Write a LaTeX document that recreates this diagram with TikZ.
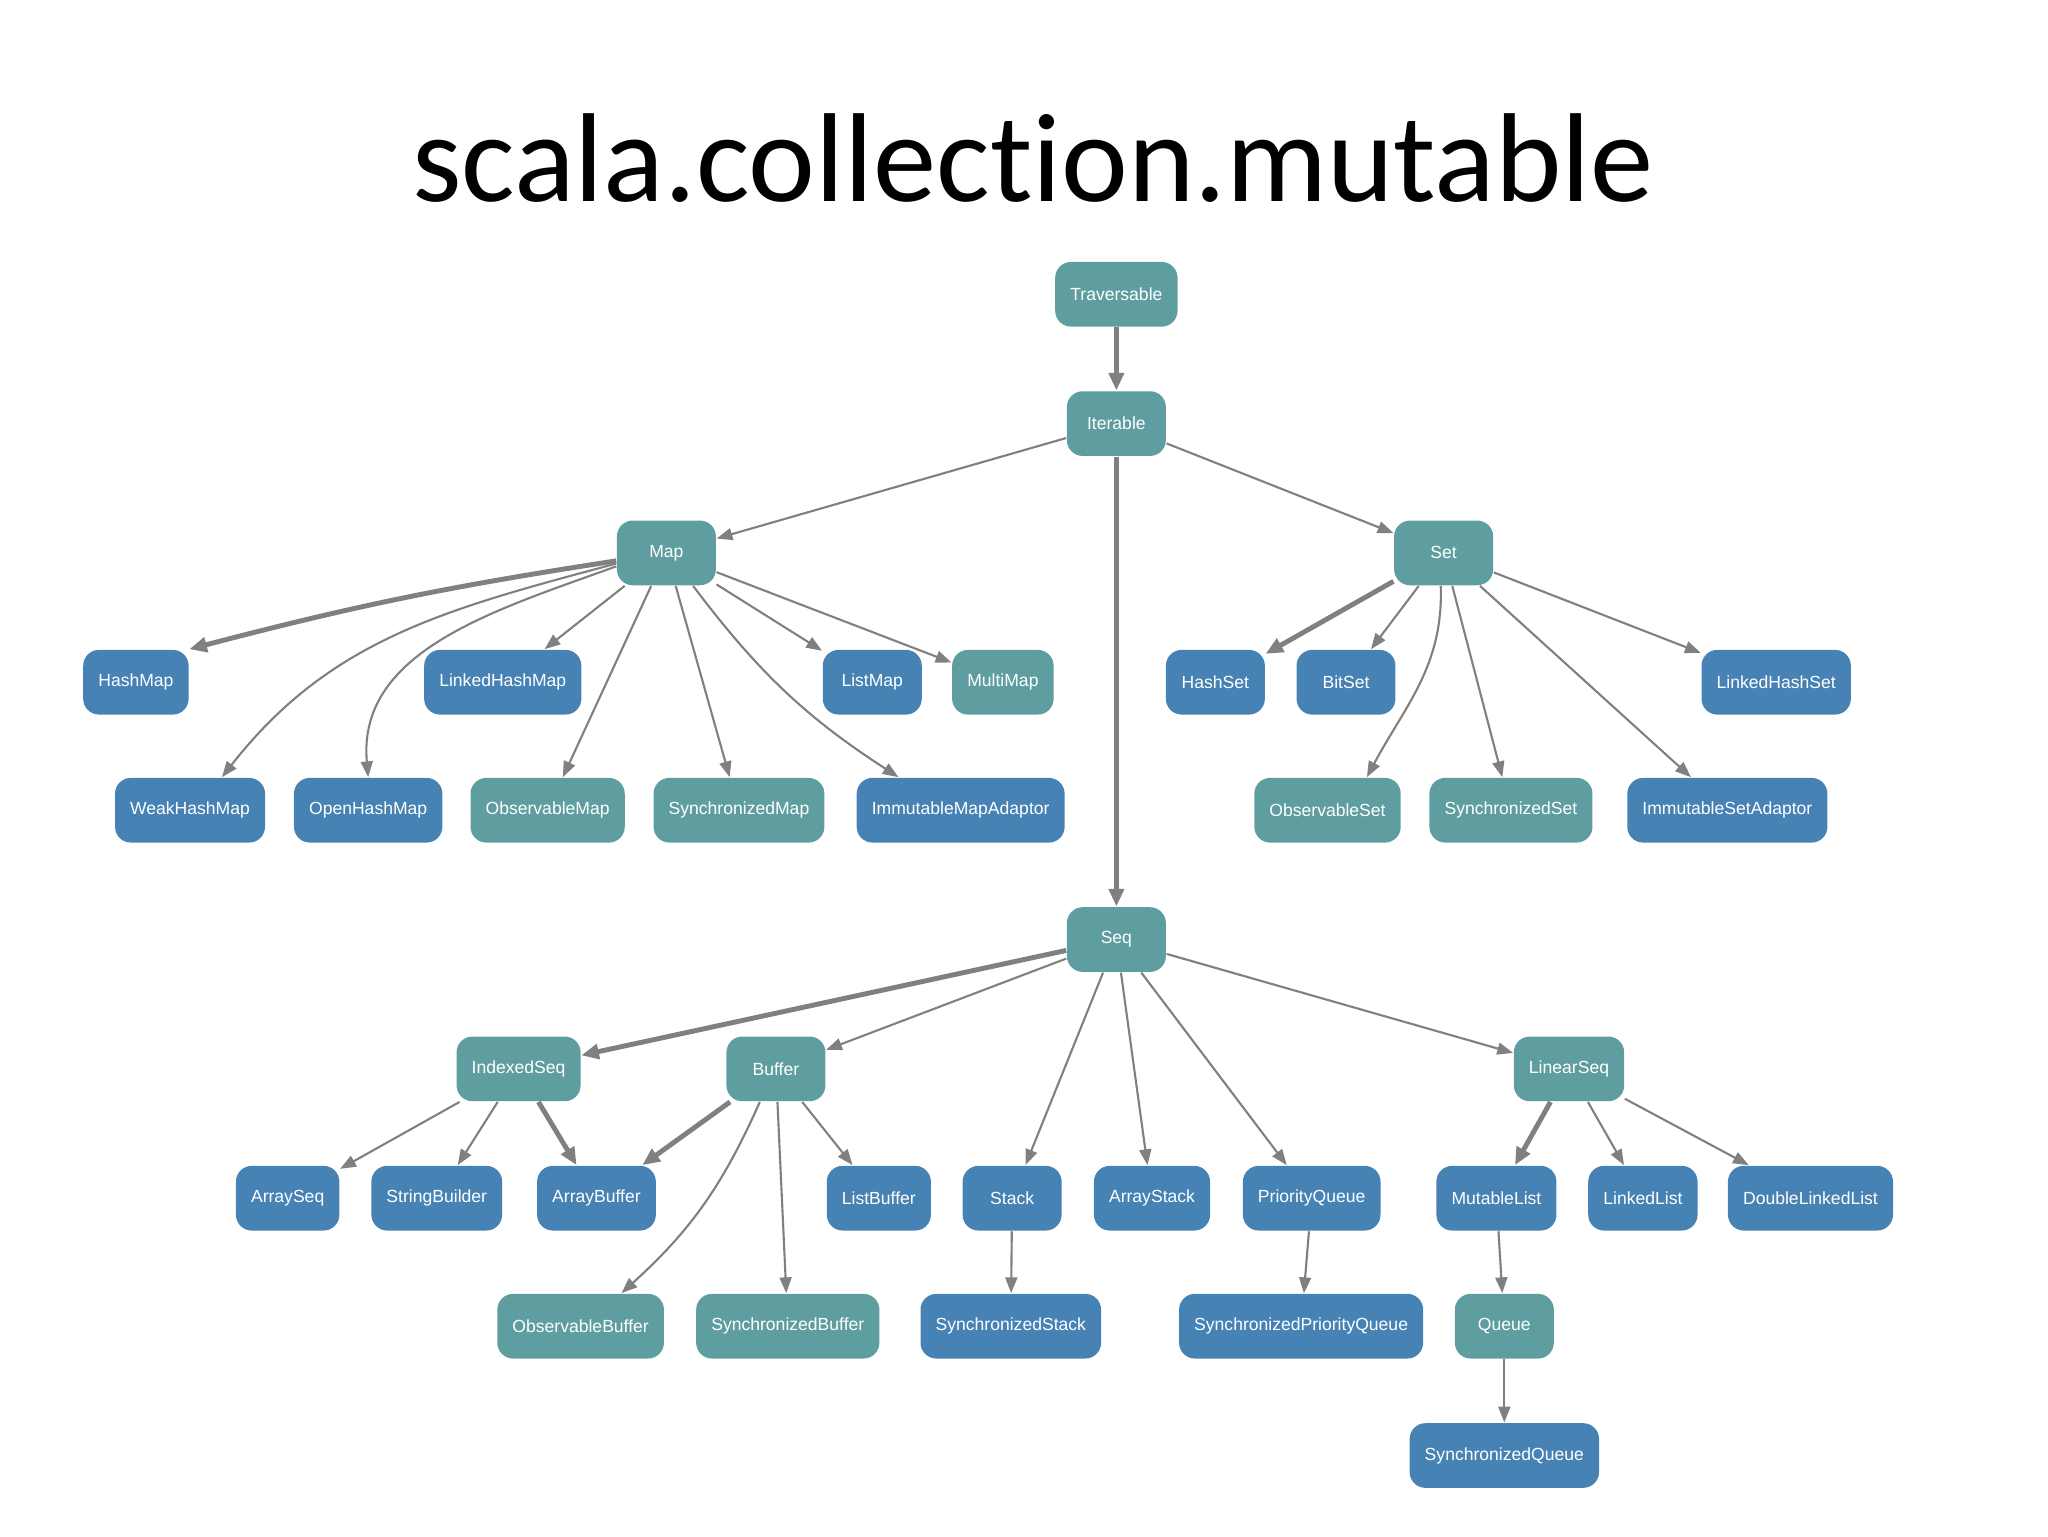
\documentclass[tikz,border=0pt]{standalone}
\usepackage{fontspec}
\setmainfont{Liberation Sans}
\newfontfamily\titlefont[Ligatures = NoCommon]{Carlito}
\usetikzlibrary{arrows.meta}
\definecolor{traitteal}{HTML}{5F9EA0}
\definecolor{classblue}{HTML}{4682B4}
\definecolor{linegray}{HTML}{808080}

\begin{document}
\begin{tikzpicture}[x = 0.0132cm, y = -0.0132cm,
    box/.style = {rounded corners = 4.5pt, minimum width = 0.99cm, minimum height = 0.647cm, inner xsep = 4.3pt, text = white, font = \fontsize{5}{6}\selectfont},
    trait/.style = {box, fill = traitteal},
    cls/.style = {box, fill = classblue},
    extends/.style = {draw = linegray, line width = 0.6pt, -{Triangle[length = 4.5pt, width = 3.4pt]}},
    primary/.style = {draw = linegray, line width = 1.4pt, -{Triangle[length = 5pt, width = 4.2pt]}}]
    \useasboundingbox (0, 0) rectangle (1552, 1164);

% title
    \node[font = \titlefont\fontsize{36}{40}\selectfont] (title) at (783, 120) {scala.collection.mutable};

% top of the tree
    \node[trait] (traversable) at (846, 223) {Traversable};
    \node[trait] (iterable) at (846, 321) {Iterable};
    \node[trait] (map) at (505, 419) {Map};
    \node[trait] (set) at (1094, 419) {Set};
    \node[trait] (seq) at (846, 712) {Seq};

% map branch
    % first row
    \node[cls] (hashmap) at (103, 517) {HashMap};
    \node[cls] (linkedhashmap) at (381, 517) {LinkedHashMap};
    \node[cls] (listmap) at (661, 517) {ListMap};
    \node[trait] (multimap) at (760, 517) {MultiMap};
    % second row
    \node[cls] (weakhashmap) at (144, 614) {WeakHashMap};
    \node[cls] (openhashmap) at (279, 614) {OpenHashMap};
    \node[trait] (observablemap) at (415, 614) {ObservableMap};
    \node[trait] (synchronizedmap) at (560, 614) {SynchronizedMap};
    \node[cls] (immutablemapadaptor) at (728, 614) {ImmutableMapAdaptor};

% set branch
    \node[cls] (hashset) at (921, 517) {HashSet};
    \node[cls] (bitset) at (1020, 517) {BitSet};
    \node[cls] (linkedhashset) at (1346, 517) {LinkedHashSet};
    \node[trait] (observableset) at (1006, 614) {ObservableSet};
    \node[trait] (synchronizedset) at (1145, 614) {SynchronizedSet};
    \node[cls] (immutablesetadaptor) at (1309, 614) {ImmutableSetAdaptor};

% seq branch
    % traits below seq
    \node[trait] (indexedseq) at (393, 810) {IndexedSeq};
    \node[trait] (buffer) at (588, 810) {Buffer};
    \node[trait] (linearseq) at (1189, 810) {LinearSeq};
    % classes row
    \node[cls] (arrayseq) at (218, 908) {ArraySeq};
    \node[cls] (stringbuilder) at (331, 908) {StringBuilder};
    \node[cls] (arraybuffer) at (452, 908) {ArrayBuffer};
    \node[cls] (listbuffer) at (666, 908) {ListBuffer};
    \node[cls] (stack) at (767, 908) {Stack};
    \node[cls] (arraystack) at (873, 908) {ArrayStack};
    \node[cls] (priorityqueue) at (994, 908) {PriorityQueue};
    \node[cls] (mutablelist) at (1134, 908) {MutableList};
    \node[cls] (linkedlist) at (1245, 908) {LinkedList};
    \node[cls] (doublelinkedlist) at (1372, 908) {DoubleLinkedList};
    % lowest rows
    \node[trait] (observablebuffer) at (440, 1005) {ObservableBuffer};
    \node[trait] (synchronizedbuffer) at (597, 1005) {SynchronizedBuffer};
    \node[cls] (synchronizedstack) at (766, 1005) {SynchronizedStack};
    \node[cls] (synchronizedpriorityqueue) at (986, 1005) {SynchronizedPriorityQueue};
    \node[trait] (queue) at (1140, 1005) {Queue};
    \node[cls] (synchronizedqueue) at (1140, 1103) {SynchronizedQueue};

% draw arrows of the top
    \draw[primary] (traversable) -- (iterable);
    \draw[extends] (iterable) -- (map);
    \draw[extends] (iterable) -- (set);
    \draw[primary] (iterable) -- (seq);

% draw arrows of map
    \draw[primary] (map.189) to[bend right = 3] (hashmap.north east);
    \draw[extends] (map.192) to[out = 195, in = 52] (weakhashmap.46);
    \draw[extends] (map.195) to[out = 200, in = 95] (openhashmap.north);
    \draw[extends] (map) -- (linkedhashmap);
    \draw[extends] (map) -- (observablemap);
    \draw[extends] (map) -- (synchronizedmap);
    \draw[extends] (map.-51) to[bend right = 10] (immutablemapadaptor.152);
    \draw[extends] (map) -- (listmap);
    \draw[extends] (map) -- (multimap);

% draw arrows of set
    \draw[primary] (set) -- (hashset);
    \draw[extends] (set) -- (bitset);
    \draw[extends] (set.-95) to[out = -88, in = 62] (observableset.40);
    \draw[extends] (set) -- (synchronizedset);
    \draw[extends] (set) -- (immutablesetadaptor);
    \draw[extends] (set) -- (linkedhashset);

% draw arrows of seq
    \draw[primary] (seq) -- (indexedseq);
    \draw[extends] (seq) -- (buffer);
    \draw[extends] (seq) -- (stack);
    \draw[extends] (seq) -- (arraystack);
    \draw[extends] (seq) -- (priorityqueue);
    \draw[extends] (seq) -- (linearseq);
    \draw[extends] (indexedseq) -- (arrayseq);
    \draw[extends] (indexedseq) -- (stringbuilder);
    \draw[primary] (indexedseq) -- (arraybuffer);
    \draw[primary] (buffer) -- (arraybuffer);
    \draw[extends] (buffer.244) to[bend left = 12] (observablebuffer.39);
    \draw[extends] (buffer) -- (synchronizedbuffer);
    \draw[extends] (buffer) -- (listbuffer);
    \draw[extends] (stack) -- (synchronizedstack);
    \draw[extends] (priorityqueue) -- (synchronizedpriorityqueue);
    \draw[primary] (linearseq) -- (mutablelist);
    \draw[extends] (linearseq) -- (linkedlist);
    \draw[extends] (linearseq) -- (doublelinkedlist);
    \draw[extends] (mutablelist) -- (queue);
    \draw[extends] (queue) -- (synchronizedqueue);
\end{tikzpicture}
\end{document}
